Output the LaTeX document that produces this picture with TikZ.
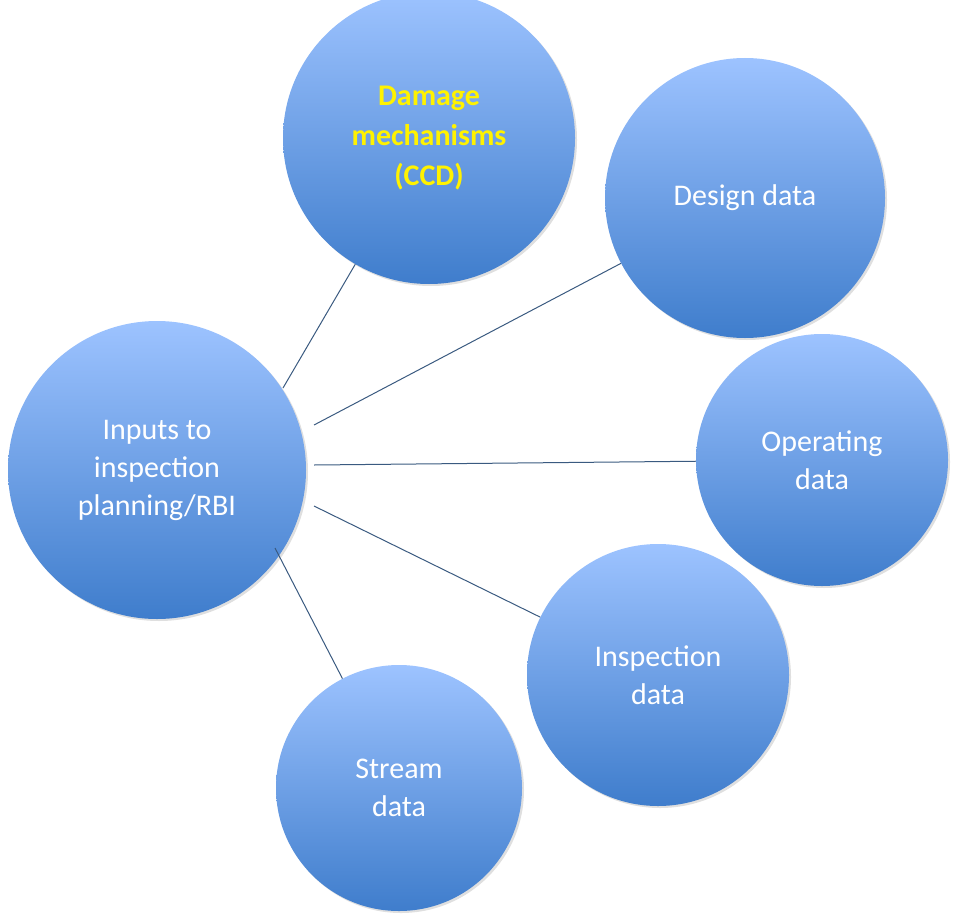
\documentclass[tikz,border=0pt]{standalone}
\usepackage{fontspec}
\setmainfont{Carlito}
\usetikzlibrary{shadows}
\definecolor{balltop}{HTML}{9DC3FF}
\definecolor{ballbot}{HTML}{3F7DCC}
\definecolor{linkcol}{HTML}{3A5A80}
\begin{document}
\begin{tikzpicture}[x=1pt, y=-1pt]
      \tikzset{
	  ball/.style={circle, top color=balltop, bottom color=ballbot, draw=none, text=white, align=center, inner sep=0pt, font=\fontsize{30}{38}\selectfont, drop shadow={opacity=0.25, shadow xshift=2pt, shadow yshift=-2pt}},
	  link/.style={draw=linkcol, line width=1pt}
      }
      \useasboundingbox (0,0) rectangle (957,923);

      \node [ball, minimum size=298pt] (inputs) at (157,470) {Inputs to\\inspection\\planning/RBI};
      \node [ball, minimum size=292pt, text=yellow, font=\fontsize{30}{40}\selectfont\bfseries] (damage) at (429,138) {Damage\\mechanisms\\(CCD)};
      \node [ball, minimum size=280pt] (design) at (745,198) {Design data};
      \node [ball, minimum size=252pt] (operating) at (822,460) {Operating\\data};
      \node [ball, minimum size=262pt] (inspection) at (658,675) {Inspection\\data};
      \node [ball, minimum size=246pt] (stream) at (399,788) {Stream\\data};

      \draw [link] (283,388) -- (damage);
      \draw [link] (314,425) -- (design);
      \draw [link] (314,465) -- (operating);
      \draw [link] (314,506) -- (inspection);
      \draw [link] (275,548) -- (stream);
\end{tikzpicture}
\end{document}
